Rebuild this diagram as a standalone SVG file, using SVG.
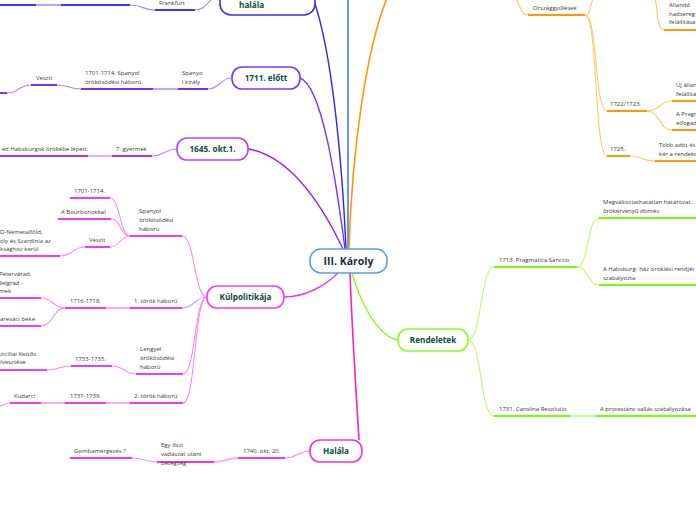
<svg xmlns="http://www.w3.org/2000/svg" width="696" height="520" viewBox="0 0 696 520">
<style>
.bg{fill:#fff}
.box{fill:#fff;stroke-width:1.6}
.nt{font-family:"Open Sans","Noto Sans",sans-serif;font-weight:bold;font-size:8.2px;fill:#0b4a3a;text-anchor:middle}
.t{font-family:"Open Sans","Noto Sans",sans-serif;font-size:6px;fill:#3a3a3a}
.ul{fill:none;stroke-width:2}
.cn{fill:none;stroke-width:1.1}
.lt{fill:none;stroke-width:2}
.db{stroke:#3b35ff}.dbc{stroke:#8c88ff}.dbl{stroke:#aaaaff}
.pu{stroke:#7433ff}.puc{stroke:#a688ff}.pul{stroke:#c3a6ff}
.vi{stroke:#b030ee}.vic{stroke:#cc80f5}.vil{stroke:#e0b3f7}
.mg{stroke:#f03cf0}.mgc{stroke:#f98af5}.mgl{stroke:#f9aaf7}
.hp{stroke:#ff33d6}.hpc{stroke:#ff88e6}.hpl{stroke:#ffaaee}
.gr{stroke:#7cfc00}.grc{stroke:#b4ff70}.grl{stroke:#c2ff8a}
.or{stroke:#ff9900}.orc{stroke:#ffc86e}.orl{stroke:#ffd08a}
</style>
<rect class="bg" x="0" y="0" width="696" height="520"/>

<g id="connectors">
  <path stroke="#2b22ff" stroke-width="1.4" fill="none" d="M346,249 C342,160 332,50 313,-2"/>
  <path stroke="#3d7eff" stroke-width="1.6" fill="none" d="M348,249 L348,-2"/>
  <path stroke="#ff9900" stroke-width="1.6" fill="none" d="M349,249 C352,150 366,50 387,-2"/>
  <path stroke="#7433ff" stroke-width="1.4" fill="none" d="M300,78 C322,86 336,180 345,249"/>
  <path stroke="#a020f0" stroke-width="1.4" fill="none" d="M248,149 C290,156 322,205 343,249"/>
  <path stroke="#f03cf0" stroke-width="1.4" fill="none" d="M284,297 C306,297 326,285 338,273"/>
  <path stroke="#ff1fb6" stroke-width="1.6" fill="none" d="M350,273 C352,330 356,390 359,440"/>
  <path stroke="#88ff22" stroke-width="1.4" fill="none" d="M352,273 C360,300 376,336 398,340"/>

  <path class="lt dbl" d="M36,5 L61,5"/>
  <path class="cn dbc" d="M130,5 C143,5 142,10 155,10"/>
  <path class="cn dbc" d="M195,10 C208,10 207,-3 220,-3"/>

  <path class="cn puc" d="M232,78 C220,78 220,89 208,89"/>
  <path class="lt pul" d="M153,89 L178,89"/>
  <path class="cn puc" d="M81,89 C69,89 69,85 57,85"/>
  <path class="cn puc" d="M31,85 C19,85 19,93 7,93"/>

  <path class="cn vic" d="M177,149 C165,149 164,156 152,156"/>
  <path class="lt vil" d="M88,156 L112,156"/>

  <path class="cn mgc" d="M207,297 C194,297 195,236 182,236"/>
  <path class="cn mgc" d="M130,236 C120,236 120,198 110,198"/>
  <path class="cn mgc" d="M130,236 C120,236 121,219 111,219"/>
  <path class="cn mgc" d="M130,236 C120,236 120,247 110,247"/>
  <path class="cn mgc" d="M85,247 C72,247 73,256 60,256"/>
  <path class="cn mgc" d="M207,297 C194,297 195,308 182,308"/>
  <path class="lt mgl" d="M106,308 L130,308"/>
  <path class="cn mgc" d="M65,308 C53,308 53,298 41,298"/>
  <path class="cn mgc" d="M65,308 C53,308 53,326 41,326"/>
  <path class="cn mgc" d="M207,297 C194,297 196,374 183,374"/>
  <path class="cn mgc" d="M136,374 C124,374 124,366 112,366"/>
  <path class="cn mgc" d="M71,366 C59,366 59,370 47,370"/>
  <path class="cn mgc" d="M207,297 C194,297 196,403 183,403"/>
  <path class="lt mgl" d="M106,403 L130,403"/>
  <path class="lt mgl" d="M41,403 L65,403"/>
  <path class="cn mgc" d="M10,403 C4,403 4,406 -2,406"/>

  <path class="cn hpc" d="M310,451 C297,451 298,458 285,458"/>
  <path class="lt hpl" d="M238,458 C226,458 226,462 214,462"/>
  <path class="cn hpc" d="M157,462 C145,462 144,458 132,458"/>

  <path class="cn grc" d="M468,340 C482,340 480,267 494,267"/>
  <path class="cn grc" d="M468,340 C482,340 480,416 494,416"/>
  <path class="cn grc" d="M577,267 C589,267 587,218 599,218"/>
  <path class="cn grc" d="M577,267 C589,267 587,285 599,285"/>
  <path class="lt grl" d="M571,416 L596,416"/>

  <path class="cn orc" d="M528,15 C520,15 520,4 515,-4"/>
  <path class="cn orc" d="M585,15 C591,15 590,4 594,-4"/>
  <path class="cn orc" d="M585,15 C598,15 594,111 607,111"/>
  <path class="cn orc" d="M585,15 C598,15 594,156 607,156"/>
  <path class="cn orc" d="M650,-8 C660,-8 654,30 664,30"/>
  <path class="cn orc" d="M647,111 C660,111 659,101 672,101"/>
  <path class="cn orc" d="M647,111 C660,111 659,130 672,130"/>
  <path class="cn orc" d="M630,156 C643,156 642,161 655,161"/>
</g>

<g id="central">
  <rect class="box" x="310" y="249" width="77" height="24" rx="11" stroke="#5aa0dc"/>
  <text x="348.5" y="265" font-family="'Open Sans','Noto Sans',sans-serif" font-weight="bold" font-size="10.5" fill="#1b2b4b" text-anchor="middle">III. Károly</text>
</g>
<g id="node-halala-top">
  <rect class="box" x="220" y="-22" width="95" height="37" rx="11" stroke="#3b2cff"/>
  <text class="nt" x="239" y="7.5" style="text-anchor:start">halála</text>
</g>
<g id="node-1711">
  <rect class="box" x="232" y="67" width="68" height="22" rx="10" stroke="#7a36ff"/>
  <text class="nt" x="266" y="81">1711. előtt</text>
</g>
<g id="node-1645">
  <rect class="box" x="177" y="138" width="71" height="22" rx="10" stroke="#b545f5"/>
  <text class="nt" x="212.5" y="152">1645. okt.1.</text>
</g>
<g id="node-kulpolitika">
  <rect class="box" x="207" y="286" width="77" height="22" rx="10" stroke="#f040f0"/>
  <text class="nt" x="245.5" y="300">Külpolitikája</text>
</g>
<g id="node-halala">
  <rect class="box" x="310" y="440" width="52" height="22" rx="10" stroke="#ff33cc"/>
  <text class="nt" x="336" y="454">Halála</text>
</g>
<g id="node-rendeletek">
  <rect class="box" x="398" y="329" width="70" height="22" rx="10" stroke="#88ff22"/>
  <text class="nt" x="433" y="343">Rendeletek</text>
</g>

<g id="s-tl1"><path class="ul db" d="M-2,5 L36,5"/></g>
<g id="s-tl2"><path class="ul db" d="M61,5 L130,5"/></g>
<g id="s-frankfurt"><path class="ul db" d="M155,10 L195,10"/><text class="t" x="159" y="5">Frankfurt</text></g>

<g id="s-spanyolkiraly"><path class="ul pu" d="M178,89 L208,89"/><text class="t" x="182" y="75">Spanyo</text><text class="t" x="182" y="84">l király</text></g>
<g id="s-1701spanyol"><path class="ul pu" d="M81,89 L153,89"/><text class="t" x="85" y="75">1701-1714. Spanyol</text><text class="t" x="85" y="84">örökösödési háború</text></g>
<g id="s-veszit1"><path class="ul pu" d="M31,85 L57,85"/><text class="t" x="36" y="80">Veszít</text></g>
<g id="s-tail1"><path class="ul pu" d="M-2,93 L7,93"/></g>

<g id="s-7gyermek"><path class="ul vi" d="M112,156 L152,156"/><text class="t" x="116" y="151">7. gyermek</text></g>
<g id="s-habsburg"><path class="ul vi" d="M-2,156 L88,156"/><text class="t" x="87" y="151" text-anchor="end">ed Habsburgok örökébe lépett</text></g>

<g id="s-spanyolhab"><path class="ul mg" d="M130,236 L182,236"/><text class="t" x="139" y="213">Spanyol</text><text class="t" x="139" y="222">örökösödési</text><text class="t" x="139" y="231">háború</text></g>
<g id="s-1701"><path class="ul mg" d="M70,198 L110,198"/><text class="t" x="74" y="193">1701-1714.</text></g>
<g id="s-bourbon"><path class="ul mg" d="M58,219 L111,219"/><text class="t" x="61" y="214">A Bourbonokkal</text></g>
<g id="s-veszit2"><path class="ul mg" d="M85,247 L110,247"/><text class="t" x="89" y="242">Veszít</text></g>
<g id="s-nemetalfold"><path class="ul mg" d="M-2,256 L60,256"/><text class="t" x="0" y="234">D-Németalföld,</text><text class="t" x="0" y="242.5">oly és Szardínia az</text><text class="t" x="0" y="251">ksághoz kerül</text></g>
<g id="s-1torok"><path class="ul mg" d="M130,308 L182,308"/><text class="t" x="134" y="303">1. török háború</text></g>
<g id="s-1716"><path class="ul mg" d="M65,308 L106,308"/><text class="t" x="70" y="303">1716-1718.</text></g>
<g id="s-petervarad"><path class="ul mg" d="M-2,298 L41,298"/><text class="t" x="-1" y="276">Pétervárad,</text><text class="t" x="-2" y="284.5">Belgrád -</text><text class="t" x="-1" y="293">mek</text></g>
<g id="s-beke"><path class="ul mg" d="M-2,326 L41,326"/><text class="t" x="0" y="321">areváci béke</text></g>
<g id="s-lengyel"><path class="ul mg" d="M136,374 L183,374"/><text class="t" x="140" y="351">Lengyel</text><text class="t" x="140" y="360">örökösödési</text><text class="t" x="140" y="369">háború</text></g>
<g id="s-1733"><path class="ul mg" d="M71,366 L112,366"/><text class="t" x="75" y="361">1733-1735.</text></g>
<g id="s-szicilia"><path class="ul mg" d="M-2,370 L47,370"/><text class="t" x="-3" y="356">Szicíliai Kettős</text><text class="t" x="-3" y="364">elvesztése</text></g>
<g id="s-2torok"><path class="ul mg" d="M130,403 L183,403"/><text class="t" x="134" y="398">2. török háború</text></g>
<g id="s-1737"><path class="ul mg" d="M65,403 L106,403"/><text class="t" x="70" y="398">1737-1739.</text></g>
<g id="s-kudarc"><path class="ul mg" d="M10,403 L41,403"/><text class="t" x="14" y="398">Kudarc!</text></g>

<g id="s-1740"><path class="ul hp" d="M238,458 L285,458"/><text class="t" x="243" y="453">1740. okt. 20.</text></g>
<g id="s-betegseg"><path class="ul hp" d="M157,462 L214,462"/><text class="t" x="161" y="447">Egy őszi</text><text class="t" x="161" y="456">vadászat utáni</text><text class="t" x="161" y="465">betegség</text></g>
<g id="s-gomba"><path class="ul hp" d="M70,458 L132,458"/><text class="t" x="74" y="453">Gombamérgezés ?</text></g>

<g id="s-pragmatica"><path class="ul gr" d="M494,267 L577,267"/><text class="t" x="499" y="262">1713. Pragmatica Sanctio</text></g>
<g id="s-megvaltoztat"><path class="ul gr" d="M599,218 L700,218"/><text class="t" x="603" y="204">Megváltoztathatatlan határozat,</text><text class="t" x="603" y="213">örökérvényű döntés</text></g>
<g id="s-habsburghaz"><path class="ul gr" d="M599,285 L700,285"/><text class="t" x="603" y="271">A Habsburg- ház öröklési rendjét</text><text class="t" x="603" y="280">szabályozta</text></g>
<g id="s-carolina"><path class="ul gr" d="M494,416 L571,416"/><text class="t" x="499" y="411">1731. Carolina Resolutio</text></g>
<g id="s-protestans"><path class="ul gr" d="M596,416 L700,416"/><text class="t" x="600" y="411">A protestáns vallás szabályozása</text></g>

<g id="s-orszaggyulesek"><path class="ul or" d="M528,15 L585,15"/><text class="t" x="533" y="10">Országgyűlések</text></g>
<g id="s-allando"><path class="ul or" d="M664,30 L700,30"/><text class="t" x="669" y="7">Állandó</text><text class="t" x="669" y="15.5">hadsereg</text><text class="t" x="669" y="24">felállítása</text></g>
<g id="s-1722"><path class="ul or" d="M607,111 L647,111"/><text class="t" x="610" y="106">1722/1723.</text></g>
<g id="s-ujallando"><path class="ul or" d="M672,101 L700,101"/><text class="t" x="676" y="87">Új állandó hadsereg</text><text class="t" x="676" y="96">felállítása</text></g>
<g id="s-pragmaelf"><path class="ul or" d="M672,130 L700,130"/><text class="t" x="676" y="116">A Pragmatica Sanctio</text><text class="t" x="676" y="125">elfogadása</text></g>
<g id="s-1725"><path class="ul or" d="M607,156 L630,156"/><text class="t" x="610" y="151">1725.</text></g>
<g id="s-tobbado"><path class="ul or" d="M655,161 L700,161"/><text class="t" x="659" y="147">Több adót és katonát</text><text class="t" x="659" y="156">kér a rendektől</text></g>
</svg>
